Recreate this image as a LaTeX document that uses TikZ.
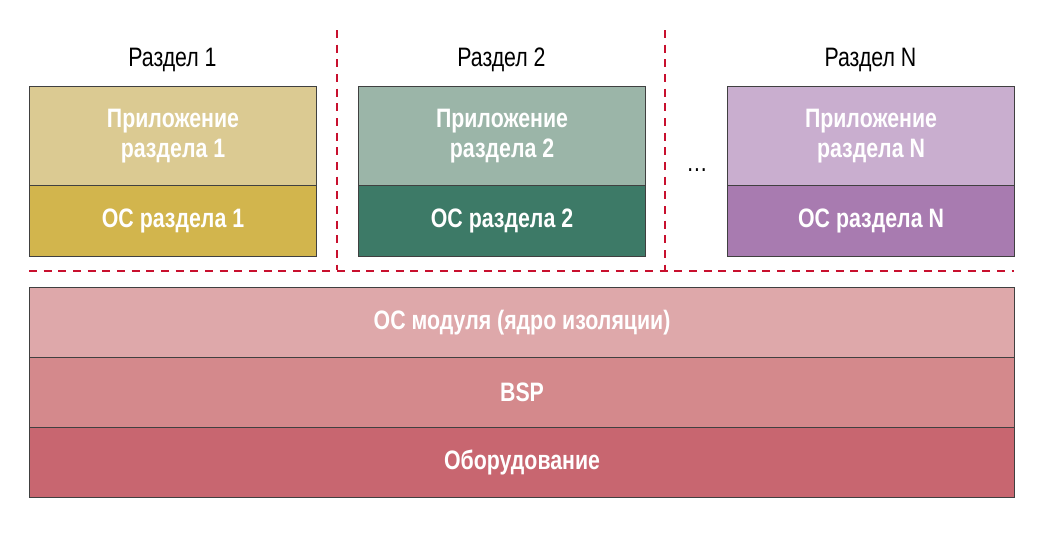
\documentclass[tikz,border=0pt]{standalone}
\usepackage{fontspec}
\setmainfont[FakeStretch=0.8]{Liberation Sans}
\definecolor{appA}{HTML}{DBCA92}
\definecolor{osA}{HTML}{D2B54D}
\definecolor{appB}{HTML}{9BB5A8}
\definecolor{osB}{HTML}{3D7A67}
\definecolor{appC}{HTML}{C9AECF}
\definecolor{osC}{HTML}{A87BB0}
\definecolor{layA}{HTML}{DEA8AA}
\definecolor{layB}{HTML}{D4898C}
\definecolor{layC}{HTML}{C86670}
\definecolor{dashred}{HTML}{C8102E}
\begin{document}
\begin{tikzpicture}[x=0.75pt,y=-0.75pt,
  box/.style={draw=black!75,line width=0.8pt,text=white,font=\fontsize{20}{23}\selectfont\bfseries,align=center},
  title/.style={font=\fontsize{20}{23}\selectfont},
  sep/.style={dashred,dashed,line width=1.2pt,dash pattern=on 6pt off 5pt}]
\useasboundingbox (0,0) rectangle (1046,550);
\foreach \x/\c/\n [count=\i] in {29/A/1,358/B/2,727/C/N}{
  \node[box,fill=app\c,minimum width=287*0.75pt,minimum height=99*0.75pt,anchor=north west] (app\i) at (\x,86) {Приложение\\раздела \n};
  \node[box,fill=os\c,minimum width=287*0.75pt,minimum height=71*0.75pt,anchor=north west] (os\i) at (\x,185) {ОС раздела \n};
  \node[title] (t\i) at (\x+143.5,60) {Раздел \n};
}
\node[title] (dots) at (697,170) {\ldots};
\node[box,fill=layA,minimum width=985*0.75pt,minimum height=70*0.75pt,anchor=north west] (l1) at (29,287) {ОС модуля (ядро изоляции)};
\node[box,fill=layB,minimum width=985*0.75pt,minimum height=70*0.75pt,anchor=north west] (l2) at (29,357) {BSP};
\node[box,fill=layC,minimum width=985*0.75pt,minimum height=70*0.75pt,anchor=north west] (l3) at (29,427) {Оборудование};
\coordinate (v1a) at (337,30); \coordinate (v1b) at (337,270);
\coordinate (v2a) at (665,30); \coordinate (v2b) at (665,270);
\coordinate (ha) at (29,271); \coordinate (hb) at (1014,271);
\draw[sep] (v1a) -- (v1b);
\draw[sep] (v2a) -- (v2b);
\draw[sep] (ha) -- (hb);
\end{tikzpicture}
\end{document}
